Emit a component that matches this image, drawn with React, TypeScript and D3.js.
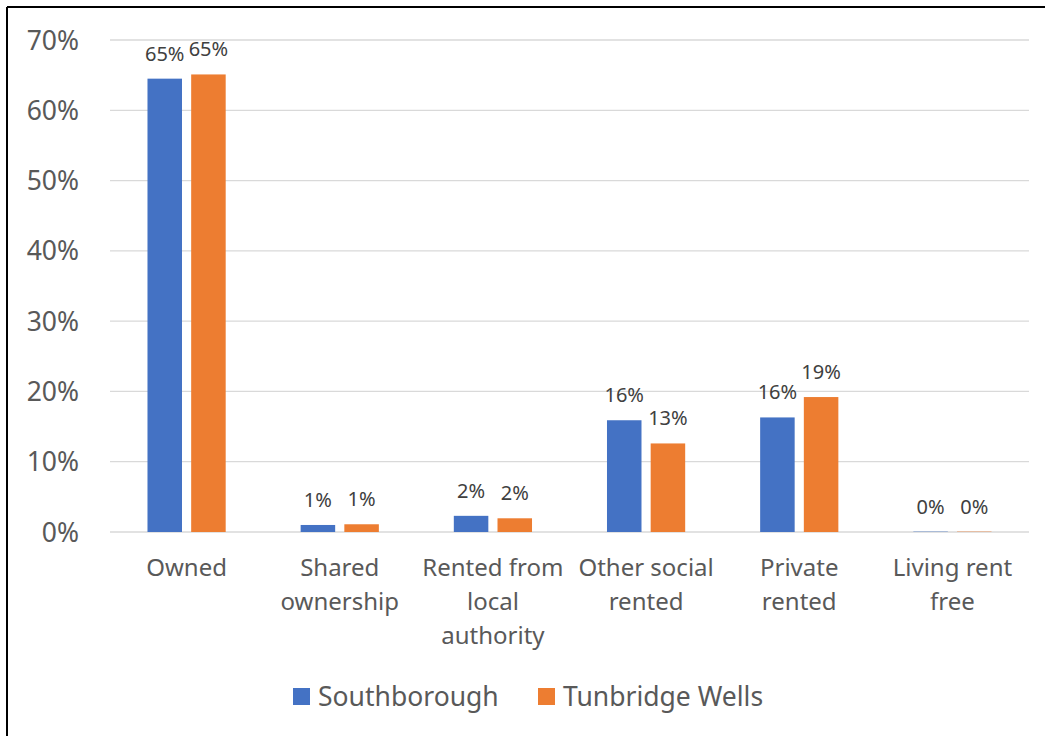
import React from "react";
import * as d3 from "d3";

const categories: string[][] = [
  ["Owned"],
  ["Shared", "ownership"],
  ["Rented from", "local", "authority"],
  ["Other social", "rented"],
  ["Private", "rented"],
  ["Living rent", "free"],
];
const southborough = [64.5, 1.0, 2.3, 15.9, 16.3, 0.05];
const tunbridgeWells = [65.1, 1.1, 1.95, 12.6, 19.2, 0.05];
const seriesNames = ["Southborough", "Tunbridge Wells"];
const seriesColors = ["#4472C4", "#ED7D31"];
const yTicks = [0, 10, 20, 30, 40, 50, 60, 70];

const W = 1045;
const H = 736;
const FONT = "'Noto Sans', 'Open Sans', sans-serif";

export default function App() {
  const x = d3.scaleBand<number>().domain(d3.range(categories.length)).range([110, 1029]).padding(0);
  const inner = d3.scaleBand<number>().domain([0, 1]).range([-39.1, 39.1]).paddingInner(0.21).paddingOuter(0);
  const y = d3.scaleLinear().domain([0, 70]).range([532, 40]);
  const series = [southborough, tunbridgeWells];

  return (
    <svg width={W} height={H} style={{ position: "absolute", left: 0, top: 0, background: "#fff" }} fontFamily={FONT}>
      <rect x={0} y={0} width={W} height={H} fill="#fff" />
      <line x1={7} y1={7} x2={W} y2={7} stroke="#000" strokeWidth={2} />
      <line x1={7} y1={7} x2={7} y2={H} stroke="#000" strokeWidth={2} />
      {yTicks.map((t) => (
        <g key={t}>
          <line x1={110} x2={1029} y1={y(t)} y2={y(t)} stroke="#D9D9D9" strokeWidth={t === 0 ? 1.5 : 1.3} />
          <text x={79} y={y(t)} dy="0.36em" textAnchor="end" fontSize={26.5} fill="#595959">
            {t}%
          </text>
        </g>
      ))}
      {series.map((vals, si) =>
        vals.map((v, ci) => {
          const cx = (x(ci) as number) + x.bandwidth() / 2;
          const bx = cx + (inner(si) as number);
          const top = y(v);
          return (
            <g key={`${si}-${ci}`}>
              <rect x={bx} y={top} width={inner.bandwidth()} height={y(0) - top} fill={seriesColors[si]} />
              <text x={bx + inner.bandwidth() / 2} y={top - 18} textAnchor="middle" fontSize={20} fill="#404040">
                {Math.round(v)}%
              </text>
            </g>
          );
        })
      )}
      {categories.map((lines, ci) => {
        const cx = (x(ci) as number) + x.bandwidth() / 2;
        return (
          <text key={ci} x={cx} textAnchor="middle" fontSize={24} fill="#595959">
            {lines.map((l, li) => (
              <tspan key={li} x={cx} y={568 + li * 34} dy="0.35em">
                {l}
              </tspan>
            ))}
          </text>
        );
      })}
      {seriesNames.map((n, i) => {
        const lx = i === 0 ? 293 : 538;
        return (
          <g key={n}>
            <rect x={lx} y={688} width={17} height={17} fill={seriesColors[i]} />
            <text x={lx + 25} y={697} dy="0.35em" fontSize={26.5} fill="#595959">
              {n}
            </text>
          </g>
        );
      })}
    </svg>
  );
}
